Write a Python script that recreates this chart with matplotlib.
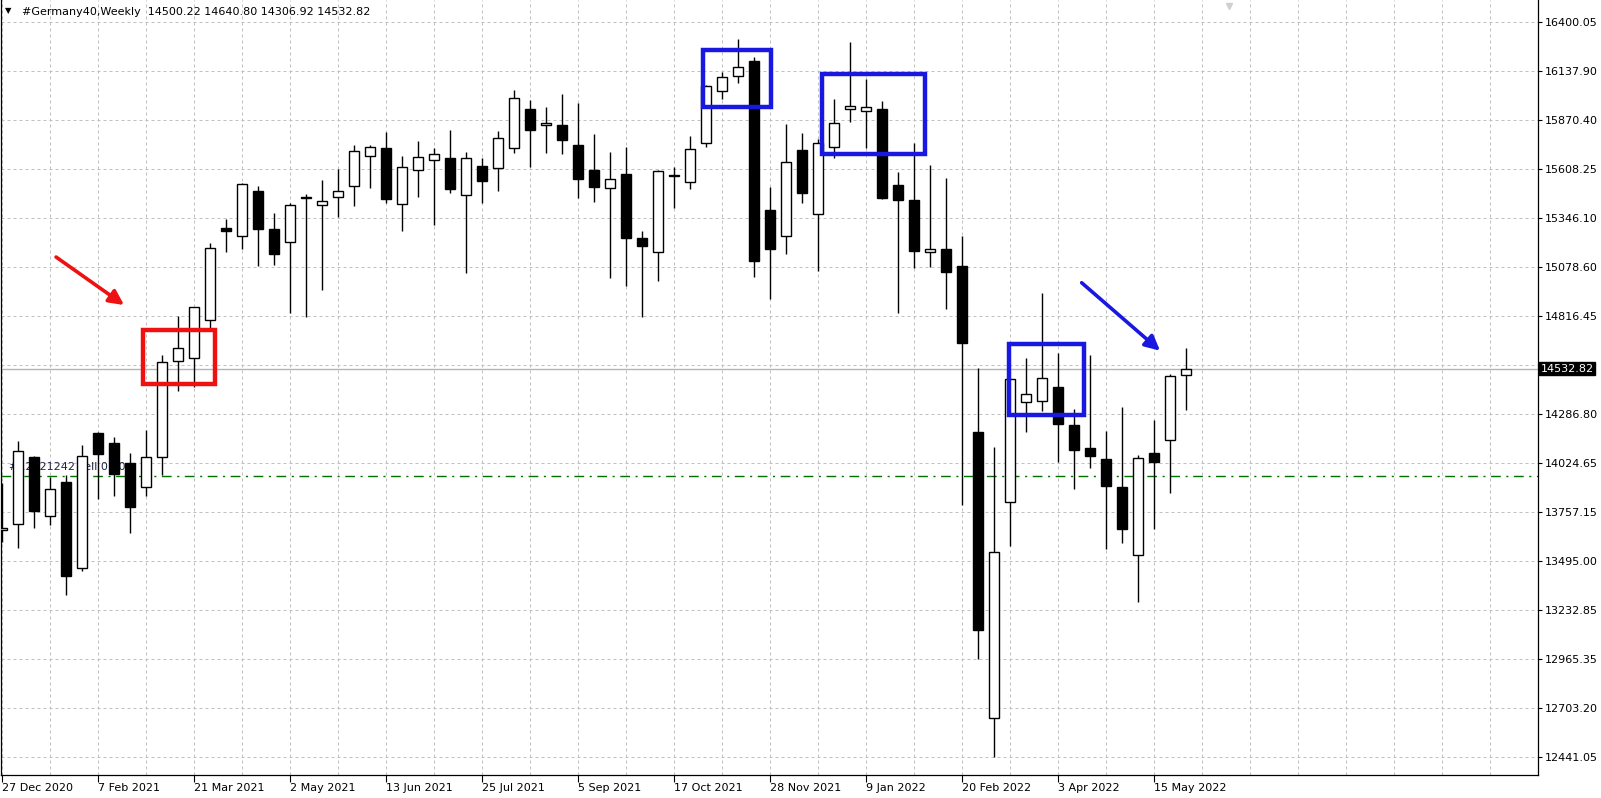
import matplotlib
matplotlib.use("Agg")
import matplotlib.pyplot as plt
from matplotlib.transforms import blended_transform_factory

# Germany40 weekly candles (bar 0 = week of 27 Dec 2020)
opens = [13665, 13693, 14056, 13736, 13920, 13456, 14184, 14130, 14022, 13896,
         14054, 14572, 14588, 14793, 15290, 15245, 15489, 15285, 15213, 15452,
         15412, 15459, 15516, 15676, 15719, 15418, 15601, 15655, 15666, 15466,
         15622, 15612, 15719, 15930, 15843, 15845, 15737, 15603, 15504, 15581,
         15236, 15159, 15575, 15536, 15746, 16027, 16107, 16190, 15387, 15245,
         15710, 15365, 15728, 15930, 15919, 15931, 15522, 15441, 15159, 15177,
         15087, 14192, 12648, 13812, 14351, 14359, 14433, 14228, 14103, 14043,
         13893, 13526, 14076, 14146, 14500.22]
highs = [13916, 14142, 14060, 13950, 13959, 14121, 14192, 14162, 14076, 14201,
         14606, 14817, 14866, 15208, 15338, 15530, 15516, 15371, 15423, 15473,
         15549, 15608, 15735, 15737, 15807, 15678, 15759, 15719, 15818, 15698,
         15666, 15813, 16034, 15980, 15944, 16012, 15965, 15797, 15701, 15725,
         15274, 15600, 15620, 15786, 16062, 16129, 16308, 16213, 15513, 15850,
         15800, 15770, 15985, 16294, 16093, 15974, 15590, 15746, 15629, 15561,
         15248, 14534, 14111, 14480, 14588, 14938, 14615, 14315, 14606, 14196,
         14324, 14067, 14255, 14503, 14640.80]
lows = [13600, 13567, 13672, 13689, 13312, 13443, 13828, 13847, 13645, 13846,
        13959, 14413, 14431, 14740, 15159, 15177, 15087, 15091, 14833, 14812,
        14956, 15351, 15410, 15504, 15426, 15275, 15459, 15306, 15477, 15046,
        15423, 15491, 15696, 15620, 15696, 15687, 15450, 15432, 15019, 14979,
        14812, 15006, 15396, 15499, 15728, 15985, 16073, 15028, 14909, 15148,
        15423, 15060, 15666, 15860, 15723, 15446, 14833, 15073, 15081, 14852,
        13797, 12966, 12441, 13578, 14192, 14304, 14031, 13883, 13995, 13560,
        13591, 13276, 13668, 13863, 14306.92]
closes = [13672, 14088, 13766, 13883, 13416, 14063, 14070, 13963, 13788, 14054,
          14566, 14642, 14863, 15181, 15276, 15525, 15286, 15151, 15412, 15458,
          15435, 15489, 15705, 15725, 15448, 15617, 15671, 15687, 15502, 15666,
          15545, 15773, 15989, 15818, 15856, 15766, 15552, 15509, 15554, 15238,
          15195, 15597, 15568, 15714, 16054, 16102, 16156, 15114, 15178, 15644,
          15477, 15746, 15854, 15949, 15940, 15450, 15441, 15168, 15175, 15051,
          14672, 13124, 13542, 14475, 14394, 14480, 14235, 14094, 14063, 13901,
          13668, 14049, 14031, 14494, 14532.82]

date_labels = ["27 Dec 2020", "7 Feb 2021", "21 Mar 2021", "2 May 2021",
               "13 Jun 2021", "25 Jul 2021", "5 Sep 2021", "17 Oct 2021",
               "28 Nov 2021", "9 Jan 2022", "20 Feb 2022", "3 Apr 2022",
               "15 May 2022"]
# the level near 14551 sits under the bid label, so only its grid line shows
price_ticks = [16400.05, 16137.90, 15870.40, 15608.25, 15346.10, 15078.60,
               14816.45, 14286.80, 14024.65, 13757.15, 13495.00,
               13232.85, 12965.35, 12703.20, 12441.05]
hidden_level = 14551.30
order_price = 13956
order_text = "#12121242 sell 0.10"

grid_col = "#c0c0c0"
red = "#ee1111"
blue = "#1818e0"

plt.rcParams['font.family'] = ['DejaVu Sans']

fig = plt.figure(figsize=(16.01, 7.98), dpi=100)
ax = fig.add_axes([1 / 1601, 23 / 798, 1537 / 1601, 775 / 798])
ax.set_xlim(-0.081, 95.98)
ax.set_ylim(12342.5, 16518.6)

# grid: every 3 bars / at each price level
for k in range(0, 96, 3):
    ax.axvline(k, color=grid_col, lw=0.72, ls=(0, (3, 3)), zorder=1)
for p in price_ticks + [hidden_level]:
    ax.axhline(p, color=grid_col, lw=0.72, ls=(0, (3, 3)), zorder=1)

# bid line and order line
last = closes[-1]
ax.axhline(last, color="#b4b4b4", lw=1.0, zorder=1.5)
ax.axhline(order_price, color="#007000", lw=1.0, ls=(0, (7, 4, 1.5, 4)), zorder=1.5)
ax.text(0.45, order_price + 18, order_text, fontsize=8, color="#222244",
        ha="left", va="bottom", zorder=1.6)

# candles
n = len(closes)
xs = list(range(n))
ax.vlines(xs, lows, highs, color="black", lw=1.0, zorder=3)
bottoms = [min(o, c) for o, c in zip(opens, closes)]
heights = [abs(c - o) for o, c in zip(opens, closes)]
fills = ["white" if c >= o else "black" for o, c in zip(opens, closes)]
ax.bar(xs, heights, width=0.625, bottom=bottoms, color=fills,
       edgecolor="black", linewidth=1.0, zorder=4)

# hand-drawn markup
ax.add_patch(plt.Rectangle((8.78, 14447.6), 13.29 - 8.78, 14740 - 14447.6,
                           fill=False, ec=red, lw=3.2, zorder=6))
ax.annotate("", xy=(7.61, 14875), xytext=(3.36, 15133.6),
            arrowprops=dict(arrowstyle="-|>", color=red, lw=2.6,
                            mutation_scale=22, shrinkA=0, shrinkB=0), zorder=6)
boxes = [(43.81, 48.03, 15940.4, 16249.2),
         (51.21, 57.67, 15688.7, 16119.8),
         (62.90, 67.60, 14280.5, 14664.8)]
for x0, x1, y0, y1 in boxes:
    ax.add_patch(plt.Rectangle((x0, y0), x1 - x0, y1 - y0, fill=False,
                               ec=blue, lw=3.2, zorder=6))
ax.annotate("", xy=(72.36, 14628.7), xytext=(67.46, 14995),
            arrowprops=dict(arrowstyle="-|>", color=blue, lw=2.6,
                            mutation_scale=22, shrinkA=0, shrinkB=0), zorder=6)

# axes look (MT4 style)
for s in ["left", "right", "bottom"]:
    ax.spines[s].set_color("black")
    ax.spines[s].set_linewidth(0.9)
ax.spines["top"].set_visible(False)

ax.yaxis.tick_right()
ax.set_yticks(price_ticks)
ax.set_yticklabels([f"{p:.2f}" for p in price_ticks])
ax.tick_params(axis="y", length=3, width=0.8, pad=2, labelsize=8)

ax.set_xticks(list(range(0, n, 6)))
ax.set_xticklabels(date_labels)
ax.tick_params(axis="x", length=5, width=0.8, pad=1, labelsize=8)
for lbl in ax.get_xticklabels():
    lbl.set_ha("left")

# current price box on the price scale
trans = blended_transform_factory(ax.transAxes, ax.transData)
ax.text(1.0018, last, f"{last:.2f}", transform=trans, fontsize=8, color="white",
        ha="left", va="center", clip_on=False, zorder=10,
        bbox=dict(boxstyle="square,pad=0.12", fc="black", ec="black"))

# header and shift marker
fig.text(5 / 1601, 1 - 11 / 798, "\u25bc", fontsize=6, va="center", ha="left")
fig.text(22 / 1601, 1 - 12 / 798,
         f"#Germany40,Weekly  {opens[-1]:.2f} {highs[-1]:.2f} {lows[-1]:.2f} {closes[-1]:.2f}",
         fontsize=8, va="center", ha="left")
ax.plot([(1229 - 1) / 1537], [1 - 6 / 775], marker="v", ms=5, color="#d0d0d0",
        transform=ax.transAxes, clip_on=False, zorder=7)

fig.savefig("out.png", dpi=100)
